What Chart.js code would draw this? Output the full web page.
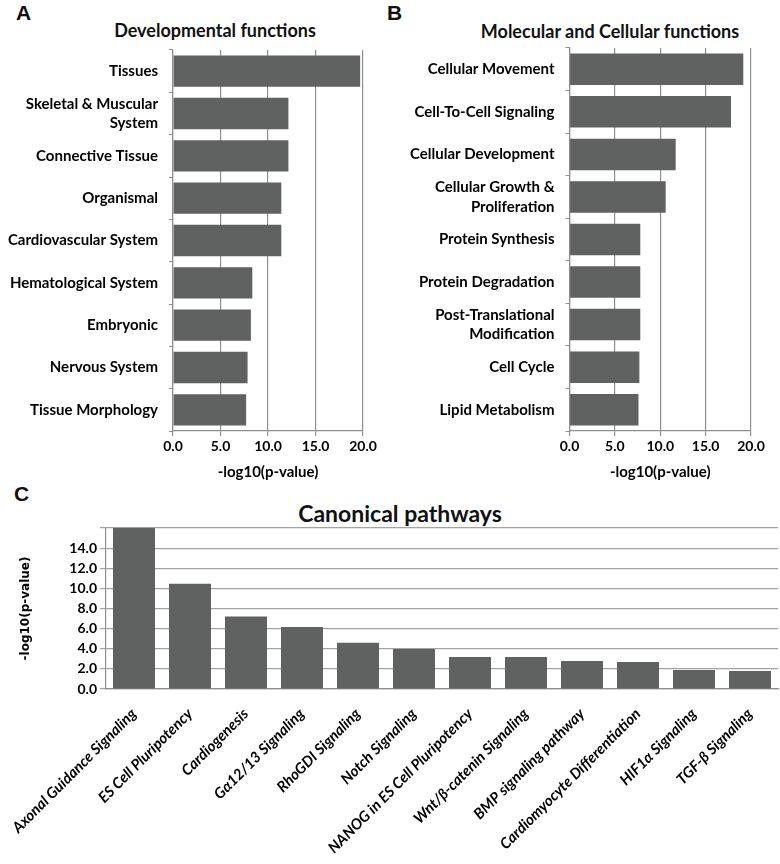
<!DOCTYPE html>
<html>
<head>
<meta charset="utf-8">
<script src="https://cdn.jsdelivr.net/npm/chart.js@4.4.1/dist/chart.umd.min.js"></script>
<style>
  body { margin: 0; background: #fff; }
  #page { position: relative; width: 780px; height: 864px; font-family: Lato, "Open Sans", sans-serif; }
  #page canvas { position: absolute; }
  .letter { position: absolute; font: bold 21px "Liberation Sans", Arial, sans-serif; color: #111; }
  .title { position: absolute; font-weight: bold; color: #111; text-align: center; white-space: nowrap; }
</style>
</head>
<body>
<div id="page">
  <div class="letter" style="left:16px; top:1px;">A</div>
  <div class="letter" style="left:387px; top:1px;">B</div>
  <div class="letter" style="left:14px; top:482px;">C</div>
  <div class="title" style="left:105px; width:220px; top:19px; font-size:18px;">Developmental functions</div>
  <div class="title" style="left:460px; width:300px; top:20px; font-size:18px;">Molecular and Cellular functions</div>
  <div class="title" style="left:240px; width:320px; top:499px; font-size:23px;">Canonical pathways</div>
  <canvas id="devChart" width="390" height="490" style="left:0; top:0;"></canvas>
  <canvas id="molChart" width="390" height="490" style="left:390px; top:0;"></canvas>
  <canvas id="pathChart" width="780" height="384" style="left:0; top:480px;"></canvas>
</div>
<script>
// Dữ liệu panel A
const devCategories = ['Tissues', ['Skeletal & Muscular', 'System'], 'Connective Tissue', 'Organismal',
    'Cardiovascular System', 'Hematological System', 'Embryonic', 'Nervous System', 'Tissue Morphology'];
const devValues = [19.7, 12.15, 12.15, 11.4, 11.4, 8.35, 8.2, 7.85, 7.7];

// Dữ liệu panel B
const molCategories = ['Cellular Movement', 'Cell-To-Cell Signaling', 'Cellular Development',
    ['Cellular Growth &', 'Proliferation'], 'Protein Synthesis', 'Protein Degradation',
    ['Post-Translational', 'Modification'], 'Cell Cycle', 'Lipid Metabolism'];
const molValues = [19.15, 17.8, 11.7, 10.6, 7.8, 7.8, 7.8, 7.7, 7.6];

// Dữ liệu panel C
const pathCategories = ['Axonal Guidance Signaling', 'ES Cell Pluripotency', 'Cardiogenesis',
    'G\u03b112/13 Signaling', 'RhoGDI Signaling', 'Notch Signaling', 'NANOG in ES Cell Pluripotency',
    'Wnt/\u03b2-catenin Signaling', 'BMP signaling pathway', 'Cardiomyocyte Differentiation',
    'HIF1\u03b1 Signaling', 'TGF-\u03b2 Signaling'];
const pathValues = [16.0, 10.45, 7.2, 6.15, 4.6, 3.97, 3.18, 3.18, 2.78, 2.68, 1.89, 1.79];

const hTickStep = 5;
const hTickMax = 20;
const vTickStep = 2;
const vTickMax = 16;

const barColor = '#606161';
const gridColor = '#8f8f8f';
const textColor = '#000';
const fontFamily = 'Lato, "Open Sans", sans-serif';

// Biểu đồ ngang cho panel A và B
function makeHorizontal(canvasId, labels, values, axisWidth, rightPad, topPad) {
    const ctx = document.getElementById(canvasId).getContext('2d');
    return new Chart(ctx, {
        type: 'bar',
        data: {
            labels: labels,
            datasets: [{
                data: values,
                backgroundColor: barColor,
                borderWidth: 0,
                categoryPercentage: 1,
                barPercentage: 0.74
            }]
        },
        options: {
            responsive: false,
            animation: false,
            indexAxis: 'y',
            layout: { padding: { top: topPad, right: rightPad, left: 0, bottom: 0 } },
            plugins: { legend: { display: false }, tooltip: { enabled: false } },
            scales: {
                x: {
                    min: 0,
                    max: hTickMax,
                    afterFit: s => { s.height = 59; },
                    ticks: {
                        stepSize: hTickStep,
                        padding: 2,
                        color: textColor,
                        font: { family: fontFamily, size: 14, weight: 'bold' },
                        callback: v => v.toFixed(1)
                    },
                    grid: { color: gridColor, lineWidth: 1.2, tickLength: 5 },
                    border: { color: gridColor, width: 1.2 },
                    title: {
                        display: true,
                        text: '-log10(p-value)',
                        color: textColor,
                        padding: { top: 0, bottom: 9 },
                        font: { family: fontFamily, size: 15, weight: 'bold' }
                    }
                },
                y: {
                    afterFit: s => { s.width = axisWidth; },
                    ticks: {
                        padding: 11,
                        color: textColor,
                        font: { family: fontFamily, size: 15, weight: 'bold', lineHeight: 1.3 }
                    },
                    grid: { drawOnChartArea: false, color: gridColor, tickLength: 4 },
                    border: { color: gridColor, width: 1.2 }
                }
            }
        }
    });
}

makeHorizontal('devChart', devCategories, devValues, 173, 27, 50);
makeHorizontal('molChart', molCategories, molValues, 179.5, 29, 48);

// Biểu đồ cột panel C
new Chart(document.getElementById('pathChart').getContext('2d'), {
    type: 'bar',
    data: {
        labels: pathCategories,
        datasets: [{
            data: pathValues,
            backgroundColor: barColor,
            borderWidth: 0,
            categoryPercentage: 1,
            barPercentage: 0.75
        }]
    },
    options: {
        responsive: false,
        animation: false,
        layout: { padding: { top: 48, right: 2, left: 0, bottom: 0 } },
        plugins: { legend: { display: false }, tooltip: { enabled: false } },
        scales: {
            x: {
                afterFit: s => { s.height = 175; },
                ticks: {
                    autoSkip: false,
                    minRotation: 45,
                    maxRotation: 45,
                    padding: 8,
                    color: textColor,
                    font: { family: fontFamily, size: 15, weight: 'bold', style: 'italic' }
                },
                grid: { display: false },
                border: { color: gridColor, width: 1.2 }
            },
            y: {
                min: 0,
                max: vTickMax,
                afterFit: s => { s.width = 106; },
                ticks: {
                    stepSize: vTickStep,
                    padding: 3,
                    color: textColor,
                    font: { family: fontFamily, size: 14, weight: 'bold' },
                    callback: v => (v >= vTickMax ? '' : v.toFixed(1))
                },
                grid: { color: '#a3a3a3', lineWidth: 1.2, tickLength: 6 },
                border: { color: gridColor, width: 1.2 },
                title: {
                    display: true,
                    text: '-log10(p-value)',
                    color: textColor,
                    padding: { top: 19, bottom: 0 },
                    font: { family: '"DejaVu Sans", Verdana, sans-serif', size: 12, weight: 'bold' }
                }
            }
        }
    }
});
</script>
</body>
</html>
